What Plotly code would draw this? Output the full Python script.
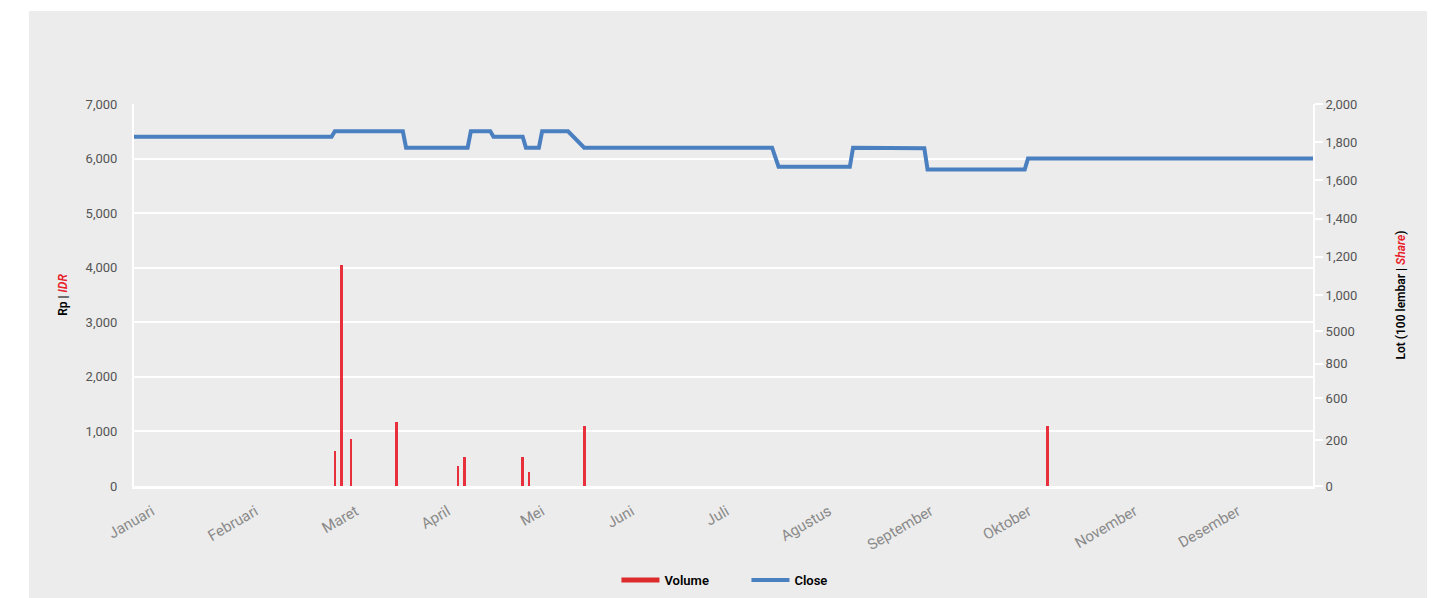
import plotly.graph_objects as go

# ---- data ----
close_dates = ["2019-01-01", "2019-03-03", "2019-03-04", "2019-03-25", "2019-03-26",
               "2019-04-14", "2019-04-15", "2019-04-21", "2019-04-22", "2019-05-01",
               "2019-05-02", "2019-05-06", "2019-05-07", "2019-05-15", "2019-05-20",
               "2019-07-17", "2019-07-19", "2019-08-10", "2019-08-11", "2019-08-28",
               "2019-08-29", "2019-09-02", "2019-09-03", "2019-10-03", "2019-10-04",
               "2019-12-31"]
close_values = [6400, 6400, 6500, 6500, 6200,
                6200, 6500, 6500, 6400, 6400,
                6200, 6200, 6500, 6500, 6200,
                6200, 5850, 5850, 6200, 6200,
                6190, 6190, 5800, 5800, 6000,
                6000]

volume_dates = ["2019-03-04", "2019-03-06", "2019-03-09", "2019-03-23", "2019-04-11",
                "2019-04-13", "2019-05-01", "2019-05-03", "2019-05-20", "2019-10-10"]
volume_values = [183, 1157, 244, 335, 105, 153, 153, 73, 314, 314]

month_ticks = ["2019-01-06 12:00", "2019-02-07 12:00", "2019-03-10 12:00",
               "2019-04-07 20:00", "2019-05-06 22:00", "2019-06-03 15:00",
               "2019-07-02 22:00", "2019-08-03 12:00", "2019-09-03 22:00",
               "2019-10-04 05:00", "2019-11-05 22:00", "2019-12-07 17:00"]
month_labels = ["Januari", "Februari", "Maret", "April", "Mei", "Juni", "Juli",
                "Agustus", "September", "Oktober", "November", "Desember"]

left_ticks = [0, 1000, 2000, 3000, 4000, 5000, 6000, 7000]
left_labels = ["0", "1,000", "2,000", "3,000", "4,000", "5,000", "6,000", "7,000"]
right_ticks = [0, 240, 460, 640, 810, 1000, 1200, 1400, 1600, 1800, 2000]
right_labels = ["0", "200", "600", "800", "5000", "1,000", "1,200", "1,400",
                "1,600", "1,800", "2,000"]

RED = "#e8303c"
BLUE = "#4a7fc0"
BG = "#ececec"
FONT = "Roboto"

fig = go.Figure()

fig.add_trace(go.Bar(x=volume_dates, y=volume_values, yaxis="y2",
                     marker=dict(color=RED, line=dict(width=0)),
                     width=0.8 * 86400000, showlegend=False, name="Volume"))
fig.add_trace(go.Scatter(x=[None], y=[None], mode="lines", name="Volume",
                         line=dict(color="#dd2a2a", width=5)))
fig.add_trace(go.Scatter(x=close_dates, y=close_values, mode="lines", name="Close",
                         line=dict(color=BLUE, width=4)))

fig.update_layout(
    width=1436, height=598,
    margin=dict(l=134, r=123, t=104, b=112, autoexpand=False),
    paper_bgcolor="white", plot_bgcolor=BG,
    font=dict(family=FONT, size=12, color="#555"),
    bargap=0,
    shapes=[dict(type="rect", xref="paper", yref="paper",
                 x0=-0.0891, x1=1.0968, y0=-0.32, y1=1.2435,
                 fillcolor=BG, line=dict(width=0), layer="below")],
    xaxis=dict(type="date", range=["2019-01-01", "2019-12-31"],
               tickvals=month_ticks, ticktext=month_labels, tickangle=-30,
               showgrid=False, showline=True, linecolor="white", linewidth=3,
               ticks="outside", ticklen=8, tickcolor="rgba(0,0,0,0)",
               tickfont=dict(family=FONT, size=15, color="#8a8a8a"),
               zeroline=False, automargin=False),
    yaxis=dict(range=[0, 7000], tickvals=left_ticks, ticktext=left_labels,
               showgrid=True, gridcolor="white", gridwidth=2,
               showline=True, linecolor="white", linewidth=2,
               zeroline=False, ticks="outside", ticklen=12, tickcolor="rgba(0,0,0,0)",
               tickfont=dict(family=FONT, size=13, color="#555"), automargin=False,
               title=dict(text="Rp | <i><span style='color:#e8202a'>IDR</span></i>",
                          font=dict(family=FONT, size=12, color="black", weight=600),
                          standoff=15)),
    yaxis2=dict(overlaying="y", side="right", range=[0, 2000],
                tickvals=right_ticks, ticktext=right_labels,
                showgrid=False, showline=True, linecolor="white", linewidth=2,
                zeroline=False, ticks="outside", ticklen=8, tickwidth=2, tickcolor="white",
                tickfont=dict(family=FONT, size=13, color="#555"), automargin=False,
                title=dict(text="Lot (100 lembar | <i><span style='color:#e8202a'>Share</span></i>)",
                           font=dict(family=FONT, size=12, color="black", weight=600),
                           standoff=40)),
    legend=dict(orientation="h", x=0.4092, xanchor="left", y=-0.246, yanchor="middle",
                entrywidth=77, entrywidthmode="pixels", itemwidth=38,
                font=dict(family=FONT, size=13, color="black", weight=600),
                bgcolor="rgba(0,0,0,0)"),
)

fig.write_html("out.html")
